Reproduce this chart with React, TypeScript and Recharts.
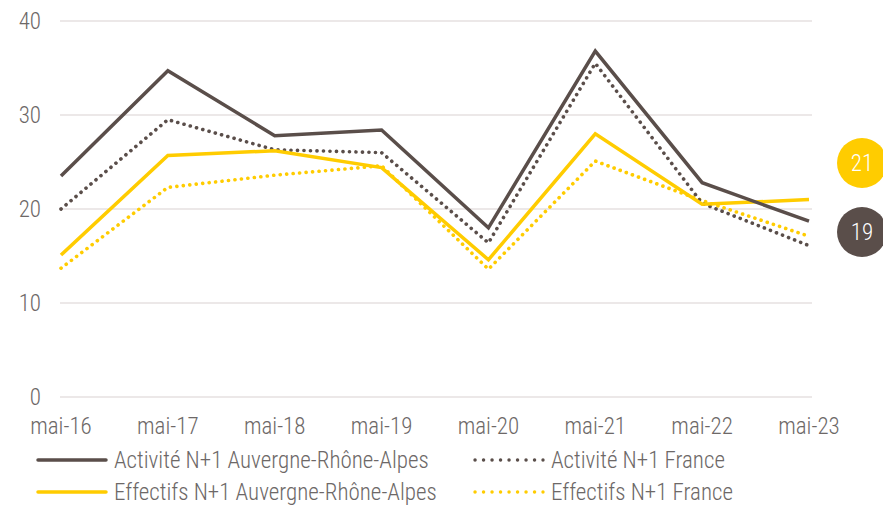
import { LineChart, Line, XAxis, YAxis, CartesianGrid } from 'recharts';

const periods = ['mai-16', 'mai-17', 'mai-18', 'mai-19', 'mai-20', 'mai-21', 'mai-22', 'mai-23'];
const activiteAra = [23.5, 34.7, 27.8, 28.4, 18.0, 36.8, 22.8, 18.7];
const activiteFrance = [20.0, 29.5, 26.3, 26.0, 16.4, 35.5, 20.6, 16.1];
const effectifsAra = [15.1, 25.7, 26.2, 24.4, 14.6, 28.0, 20.5, 21.0];
const effectifsFrance = [13.7, 22.3, 23.6, 24.6, 13.6, 25.1, 20.9, 17.1];
const yTicks = [0, 10, 20, 30, 40];

const DARK = '#5a4e4a';
const YELLOW = '#ffcc00';
const TEXT = '#6d6867';
const FONT = '"Liberation Sans Narrow", "Roboto Condensed", "Arial Narrow", "Liberation Sans", sans-serif';

const data = periods.map((p, i) => ({
    period: p,
    activiteAra: activiteAra[i],
    activiteFrance: activiteFrance[i],
    effectifsAra: effectifsAra[i],
    effectifsFrance: effectifsFrance[i],
}));

const legendItems = [
    { label: 'Activité N+1 Auvergne-Rhône-Alpes', color: DARK, dotted: false },
    { label: 'Activité N+1 France', color: DARK, dotted: true },
    { label: 'Effectifs N+1 Auvergne-Rhône-Alpes', color: YELLOW, dotted: false },
    { label: 'Effectifs N+1 France', color: YELLOW, dotted: true },
];

function LegendSample({ color, dotted }: { color: string; dotted: boolean }) {
    return (
        <svg width={72} height={8} style={{ marginRight: 6 }}>
            <line
                x1={2} y1={4} x2={70} y2={4}
                stroke={color}
                strokeWidth={dotted ? 3.4 : 3.5}
                strokeLinecap="round"
                strokeDasharray={dotted ? '0.1 8.4' : undefined}
            />
        </svg>
    );
}

function Badge({ value, color, top }: { value: number; color: string; top: number }) {
    return (
        <div style={{
            position: 'absolute', left: 837, top, width: 50, height: 50, borderRadius: 25,
            background: color, color: '#fff', fontSize: 23, fontWeight: 300, fontFamily: FONT,
            display: 'flex', alignItems: 'center', justifyContent: 'center',
        }}>
            {Math.round(value)}
        </div>
    );
}

export default function App() {
    return (
        <div style={{ position: 'absolute', left: 0, top: 0, width: 883, height: 505, background: '#fff', overflow: 'hidden', fontFamily: FONT }}>
            <LineChart width={883} height={445} data={data} margin={{ top: 21, right: 71, left: 10, bottom: 0 }}>
                <CartesianGrid vertical={false} stroke="#e6e1e1" strokeWidth={1.5} />
                <XAxis
                    dataKey="period"
                    axisLine={false}
                    tickLine={false}
                    height={48}
                    tickMargin={15}
                    padding={{ left: 1, right: 3 }}
                    interval={0}
                    tick={{ fill: TEXT, fontSize: 23, fontWeight: 300, fontFamily: FONT }}
                />
                <YAxis
                    domain={[0, 40]}
                    ticks={yTicks}
                    axisLine={false}
                    tickLine={false}
                    width={50}
                    tickMargin={13}
                    tick={{ fill: TEXT, fontSize: 23, fontWeight: 300, fontFamily: FONT }}
                />
                <Line dataKey="effectifsFrance" stroke={YELLOW} strokeWidth={3.6} strokeDasharray="0.1 6.4" strokeLinecap="round" dot={false} isAnimationActive={false} />
                <Line dataKey="activiteFrance" stroke={DARK} strokeWidth={3.6} strokeDasharray="0.1 6.4" strokeLinecap="round" dot={false} isAnimationActive={false} />
                <Line dataKey="effectifsAra" stroke={YELLOW} strokeWidth={3.5} dot={false} isAnimationActive={false} />
                <Line dataKey="activiteAra" stroke={DARK} strokeWidth={3.5} dot={false} isAnimationActive={false} />
            </LineChart>
            <Badge value={effectifsAra[effectifsAra.length - 1]} color={YELLOW} top={138} />
            <Badge value={activiteAra[activiteAra.length - 1]} color={DARK} top={207} />
            <div style={{
                position: 'absolute', left: 36, top: 446, width: 780,
                display: 'grid', gridTemplateColumns: '437px 343px', rowGap: 4,
                fontSize: 23, fontWeight: 300, color: TEXT,
            }}>
                {legendItems.map(item => (
                    <div key={item.label} style={{ display: 'flex', alignItems: 'center', height: 28, whiteSpace: 'nowrap' }}>
                        <LegendSample color={item.color} dotted={item.dotted} />
                        <span>{item.label}</span>
                    </div>
                ))}
            </div>
        </div>
    );
}
